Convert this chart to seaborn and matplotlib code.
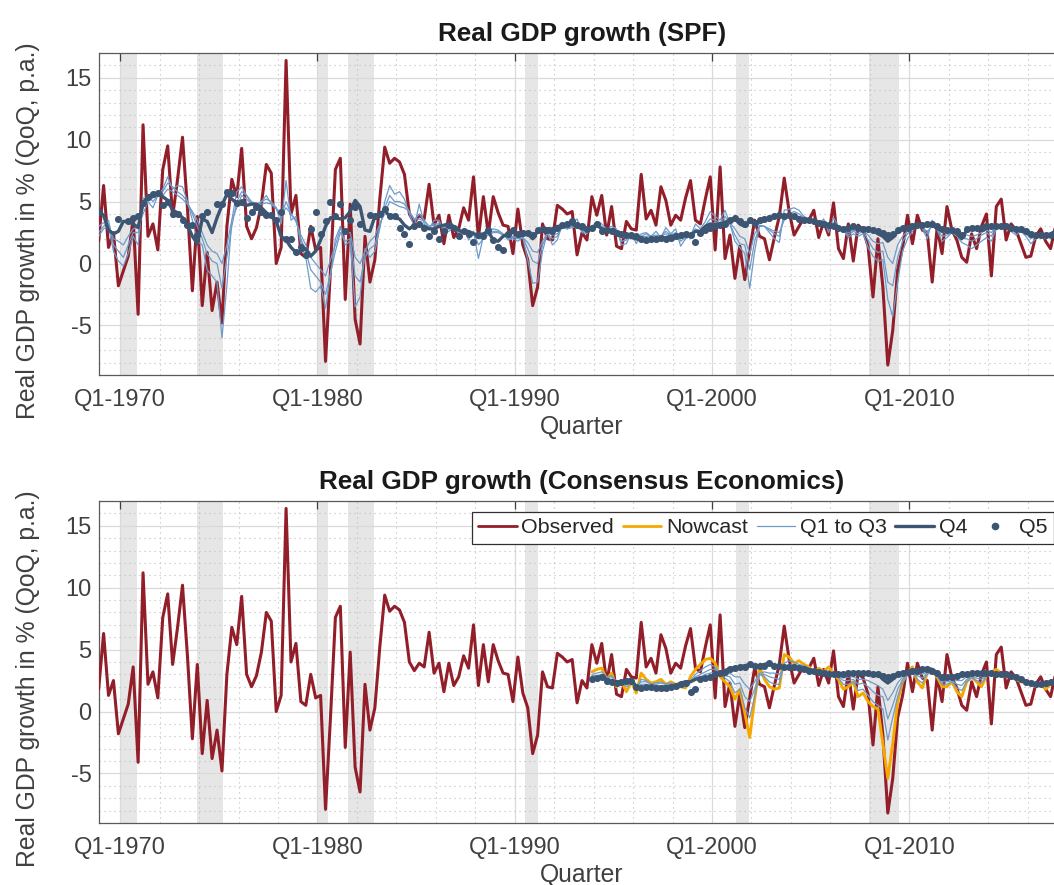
import numpy as np
import pandas as pd
import matplotlib
matplotlib.use("Agg")
import matplotlib.pyplot as plt
from matplotlib.lines import Line2D
from matplotlib.ticker import FixedLocator, MultipleLocator
import seaborn as sns

# ---------------- data ----------------
obs_start = "1968Q4"
observed = [
    1.8,
    6.3, 1.3, 2.5, -1.8,   -0.6, 0.6, 3.6, -4.1,   11.2, 2.2, 3.2, 1.1,   7.6, 9.5, 3.8, 6.8,
    10.2, 4.5, -2.2, 3.8,  -3.4, 0.9, -3.8, -1.5,  -4.8, 3.0, 6.8, 5.4,   9.3, 3.0, 2.0, 2.9,
    4.8, 8.0, 7.3, 0.0,    1.3, 16.4, 4.0, 5.5,    0.8, 0.5, 3.0, 1.1,    1.3, -7.9, -0.5, 7.6,
    8.5, -2.9, 4.8, -4.5,  -6.5, 2.2, -1.5, 0.3,   5.2, 9.4, 8.1, 8.5,    8.2, 7.2, 4.0, 3.3,
    3.9, 3.6, 6.4, 3.1,    3.9, 1.6, 3.9, 2.1,     2.8, 4.5, 3.5, 7.0,    2.1, 5.4, 2.4, 5.4,
    4.1, 3.1, 3.0, 0.8,    4.4, 1.5, 0.3, -3.4,    -1.9, 3.2, 2.0, 1.9,   4.7, 4.4, 4.0, 4.2,
    0.7, 2.5, 1.9, 5.4,    3.9, 5.5, 2.3, 4.6,     1.4, 1.2, 3.4, 2.8,    2.7, 7.2, 3.6, 4.3,
    3.1, 6.2, 5.1, 3.1,    3.9, 3.5, 5.3, 6.7,     3.5, 3.2, 5.2, 7.0,    1.1, 7.8, 0.4, 2.3,
    -1.2, 1.4, -1.3, 1.1,  3.5, 2.2, 2.0, 0.3,     2.1, 3.8, 6.9, 4.2,    2.3, 3.0, 3.7, 3.5,
    4.3, 2.1, 3.4, 2.3,    4.9, 1.2, 0.4, 3.2,     0.2, 3.1, 2.7, 1.4,    -2.7, 2.0, -1.9, -8.2,
    -5.4, -0.5, 1.3, 3.9,  1.6, 3.9, 2.7, 2.5,     -1.5, 2.9, 0.8, 4.6,   2.7, 1.9, 0.5, 0.1,
    2.4, 1.2, 3.0, 4.0,    -1.0, 4.6, 5.2, 1.9,    3.2, 2.7, 1.6, 0.5,    0.6, 2.2, 2.8, 1.8,
    1.2, 3.0,
]

spf_start = "1968Q4"
spf_q1 = [
    2.2,
    2.8, 3.0, 1.0, 0.2,    -0.2, 0.8, 2.2, 1.5,    5.3, 5.0, 4.5, 5.5,    6.0, 7.0, 6.0, 6.3,
    6.2, 5.0, 3.5, 1.8,    1.5, -0.5, -1.0, -1.5,  -6.0, -1.8, 3.5, 5.8,  6.2, 5.5, 4.8, 4.5,
    5.0, 5.5, 4.8, 4.5,    3.2, 6.7, 3.5, 3.8,     1.5, 0.5, -2.0, -2.3,  -1.8, -3.6, -1.0, 2.0,
    3.0, 1.5, 1.8, -3.5,   -2.7, 1.2, 0.5, 1.0,    2.8, 5.0, 6.3, 5.6,    5.8, 5.2, 4.0, 3.0,
    4.8, 3.2, 2.8, 3.5,    3.5, 2.5, 2.6, 3.0,     2.4, 2.8, 1.9, 2.6,    0.4, 2.2, 2.6, 2.8,
    2.7, 2.4, 1.9, 2.0,    1.8, 2.1, 0.3, -1.6,    -1.5, 1.0, 2.5, 1.5,   1.9, 3.2, 2.8, 3.2,
    3.6, 2.5, 2.4, 3.0,    3.4, 3.2, 2.8, 3.0,     2.8, 1.5, 1.6, 2.5,    1.6, 2.4, 2.5, 2.2,
    2.6, 2.1, 2.9, 2.4,    2.8, 1.4, 2.0, 2.2,     3.2, 2.8, 3.4, 4.2,    3.8, 3.5, 4.3, 3.2,
    1.8, 1.3, 0.8, -2.0,   1.0, 3.1, 3.0, 2.5,     2.0, 1.7, 4.3, 4.4,    4.5, 4.3, 3.8, 3.5,
    3.5, 3.2, 3.6, 2.5,    3.7, 3.0, 2.7, 2.1,     2.4, 2.2, 2.4, 1.3,    0.6, 0.2, 0.3, -2.9,
    -4.3, -1.5, 1.0, 2.0,  2.6, 3.2, 2.8, 2.0,     3.5, 2.7, 1.8, 2.1,    2.5, 2.2, 1.7, 1.5,
    1.2, 1.5, 1.8, 2.1,    1.8, 2.8, 3.0, 3.0,     2.6, 2.3, 2.6, 2.2,    1.6, 2.0, 2.2, 2.0,
    2.2, 2.4,
]
spf_q2 = [
    2.5,
    3.0, 3.5, 1.5, 1.0,    0.5, 1.5, 2.5, 2.5,     4.5, 5.5, 5.0, 5.5,    5.8, 6.5, 6.2, 5.8,
    5.5, 5.0, 4.0, 3.0,    2.0, 0.8, 0.2, 0.0,     -2.0, 0.5, 3.0, 5.0,   5.8, 5.5, 5.0, 4.8,
    5.0, 5.2, 5.0, 4.5,    3.8, 5.0, 4.0, 3.5,     2.0, 1.0, -0.5, -1.0,  -1.5, -2.5, -0.8, 1.0,
    2.5, 1.8, 2.0, -1.0,   -1.5, 0.5, 1.2, 1.5,    3.0, 4.5, 5.5, 5.0,    5.0, 4.8, 4.2, 3.5,
    4.0, 3.5, 3.0, 3.2,    3.2, 2.8, 2.8, 3.0,     2.6, 2.7, 2.3, 2.6,    1.5, 2.0, 2.4, 2.6,
    2.6, 2.3, 2.0, 2.1,    2.0, 2.1, 1.2, 0.2,     0.0, 1.5, 2.4, 2.0,    2.2, 3.0, 2.8, 3.0,
    3.2, 2.6, 2.5, 2.9,    3.2, 3.0, 2.8, 2.8,     2.6, 1.8, 1.9, 2.4,    1.9, 2.2, 2.4, 2.2,
    2.3, 2.2, 2.6, 2.3,    2.5, 1.8, 2.1, 2.3,     2.8, 2.6, 3.1, 3.6,    3.5, 3.3, 3.8, 3.2,
    2.3, 1.6, 1.5, -0.5,   1.8, 3.0, 3.0, 2.7,     2.4, 2.2, 3.8, 4.0,    4.2, 4.0, 3.7, 3.5,
    3.4, 3.3, 3.5, 2.8,    3.3, 3.0, 2.7, 2.3,     2.6, 2.4, 2.6, 1.9,    1.2, 0.9, 1.0, -1.5,
    -1.8, 0.5, 1.8, 2.4,   2.8, 3.1, 2.9, 2.4,     3.2, 2.8, 2.2, 2.3,    2.5, 2.4, 2.1, 2.0,
    1.8, 2.0, 2.3, 2.5,    2.2, 3.0, 3.0, 3.0,     2.8, 2.5, 2.6, 2.4,    2.0, 2.2, 2.3, 2.1,
    2.3, 2.5,
]
spf_q3 = [
    3.0,
    3.3, 3.2, 2.0, 1.8,    1.5, 2.2, 2.8, 3.0,     4.0, 5.0, 5.3, 5.5,    5.5, 6.0, 5.8, 5.5,
    5.2, 4.8, 4.2, 3.5,    2.5, 1.5, 1.0, 0.8,     0.0, 1.5, 3.5, 4.5,    5.5, 5.2, 4.8, 4.6,
    4.8, 4.9, 4.8, 4.4,    3.9, 4.5, 4.0, 3.4,     2.3, 1.5, 0.5, 0.0,    -0.5, -1.0, 0.3, 1.5,
    2.8, 2.5, 2.5, 0.5,    0.0, 1.0, 1.8, 2.2,     3.2, 4.0, 5.0, 4.8,    4.6, 4.5, 4.2, 3.6,
    3.6, 3.4, 3.0, 3.1,    3.1, 2.9, 2.8, 2.9,     2.7, 2.6, 2.4, 2.5,    2.0, 2.1, 2.3, 2.5,
    2.5, 2.3, 2.1, 2.2,    2.1, 2.1, 1.7, 1.0,     0.9, 1.8, 2.5, 2.3,    2.4, 2.9, 2.8, 2.9,
    3.0, 2.7, 2.6, 2.8,    3.0, 2.9, 2.7, 2.7,     2.5, 2.1, 2.1, 2.3,    2.0, 2.1, 2.2, 2.2,
    2.2, 2.2, 2.4, 2.3,    2.4, 2.0, 2.2, 2.3,     2.6, 2.6, 2.9, 3.2,    3.3, 3.2, 3.5, 3.3,
    2.8, 2.2, 2.0, 0.8,    2.4, 3.0, 3.0, 2.8,     2.6, 2.5, 3.5, 3.8,    3.9, 3.8, 3.6, 3.5,
    3.4, 3.3, 3.3, 3.0,    3.1, 3.0, 2.8, 2.5,     2.7, 2.6, 2.7, 2.3,    1.8, 1.6, 1.7, 0.5,
    0.0, 1.5, 2.2, 2.6,    2.9, 3.0, 2.9, 2.6,     3.0, 2.8, 2.5, 2.5,    2.6, 2.6, 2.4, 2.3,
    2.2, 2.3, 2.5, 2.7,    2.5, 3.0, 3.0, 3.0,     2.8, 2.6, 2.6, 2.5,    2.2, 2.3, 2.3, 2.2,
    2.3, 2.5,
]
spf_q4 = [
    4.2,
    3.9, 2.7, 2.4, 2.6,    3.4, 3.4, 3.2, 2.9,     4.9, 5.4, 5.6, 5.7,    5.4, 5.1, 4.3, 4.1,
    3.7, 3.1, 2.2, 1.6,    3.6, 3.4, 2.5, 3.7,     4.7, 5.6, 5.2, 4.9,    4.8, 4.7, 4.8, 4.8,
    4.5, 4.1, 3.8, 3.4,    2.2, 1.9, 1.3, 0.9,     1.0, 1.2, 0.6, 1.0,    1.9, 3.0, 3.7, 3.7,
    3.6, 3.7, 4.2, 5.1,    4.6, 2.7, 2.6, 3.8,     4.0, 4.3, 3.8, 3.7,    3.6, 3.1, 2.8, 3.1,
    3.1, 3.0, 2.8, 2.8,    3.0, 3.1, 3.2, 3.0,     2.7, 2.5, 2.6, 2.4,    2.3, 2.4, 2.6, 1.9,
    1.8, 2.2, 2.4, 2.5,    2.4, 2.5, 2.4, 2.0,     2.6, 2.8, 2.8, 2.8,    3.0, 3.0, 3.1, 3.2,
    3.0, 2.8, 2.8, 2.8,    3.1, 2.8, 2.7, 2.6,     2.4, 2.3, 2.3, 2.1,    2.0, 1.9, 1.8, 1.9,
    2.0, 1.9, 2.1, 2.2,    2.2, 2.3, 2.4, 2.3,     2.6, 2.6, 3.0, 3.2,    3.1, 3.2, 3.3, 3.5,
    3.6, 3.2, 3.0, 3.4,    3.3, 3.4, 3.6, 3.6,     3.8, 3.8, 3.8, 3.9,    3.7, 3.6, 3.5, 3.5,
    3.4, 3.3, 3.2, 3.0,    2.9, 2.8, 2.8, 2.8,     3.0, 2.8, 2.7, 2.8,    2.7, 2.4, 2.2, 1.8,
    2.1, 2.6, 2.8, 2.8,    3.0, 3.0, 3.1, 3.2,     3.2, 2.8, 2.7, 2.7,    2.7, 2.4, 2.0, 2.7,
    2.8, 2.8, 2.9, 3.0,    3.0, 3.0, 3.0, 3.0,     2.8, 2.8, 2.7, 2.5,    2.3, 2.2, 2.3, 2.2,
    2.4, 2.6,
]
nan = np.nan
spf_q5 = [
    4.2,
    nan, nan, nan, 3.6,    nan, 3.4, 3.7, 3.8,     4.9, 5.4, 5.6, 5.7,    4.7, 5.0, 4.0, 4.0,
    3.5, 3.1, 3.1, 2.3,    3.8, 4.2, nan, 4.8,     4.8, 5.8, 5.7, 4.9,    5.0, 3.7, 4.2, 4.6,
    4.2, 3.9, 3.9, 3.5,    4.2, 2.0, 2.0, 0.9,     1.3, 0.7, 2.8, 4.2,    2.4, 3.4, 5.0, 3.8,
    4.8, 2.6, 3.5, 4.6,    3.2, nan, 3.9, 3.8,     4.0, 4.4, 3.8, 3.8,    2.9, 2.4, 1.6, 3.0,
    3.2, 2.9, 2.2, 2.6,    2.0, 2.6, 3.1, 2.9,     2.2, 2.6, 2.4, 1.7,    2.3, 2.2, 2.7, 1.9,
    1.3, 1.1, 2.4, 2.7,    2.4, 2.5, 2.5, 2.3,     2.7, 2.8, 2.7, 2.6,    2.9, 3.1, 3.2, 3.4,
    3.1, 3.0, 2.8, 2.9,    3.2, 2.6, 2.7, 2.6,     2.5, 2.4, 2.3, 2.3,    2.2, 2.0, 1.9, 2.0,
    2.0, 2.1, 2.0, 2.1,    2.2, 2.3, 2.4, 2.3,     1.7, 2.5, 2.7, 2.9,    3.0, 3.1, 3.2, 3.5,
    3.7, 3.4, 3.2, 3.5,    3.3, 3.5, 3.6, 3.7,     3.8, 3.9, 3.8, 3.9,    3.8, 3.6, 3.5, 3.5,
    3.4, 3.3, 3.2, 3.1,    3.0, 2.9, 2.8, 2.9,     3.0, 2.9, 2.8, 2.8,    2.7, 2.6, 2.5, 2.3,
    2.4, 2.7, 2.9, 2.9,    3.0, 3.1, 3.1, 3.2,     3.2, 3.0, 2.8, 2.7,    2.7, 2.6, 2.3, 2.8,
    2.9, 2.9, 2.9, 3.0,    3.0, 3.0, 3.0, 3.0,     2.9, 2.8, 2.8, 2.6,    2.4, 2.3, 2.3, 2.3,
    2.3, 2.5,
]

ce_start = "1993Q4"
ce_nowcast = [
    3.2, 3.4, 3.5, 2.6,  3.1, 2.0, 2.4, 1.6,  2.4, 1.5, 3.1, 2.6,  2.3, 2.4, 2.6, 2.2,
    2.4, 2.2, 2.0, 1.9,  2.8, 3.4, 3.8, 4.2,  4.3, 3.9, 2.8, 2.4,  2.0, 1.0, 1.8, -0.1,
    -2.1, 1.0, 3.6, 2.6, 2.0, 1.8, 1.9, 4.6,  4.4, 3.9, 4.1, 3.8,  3.6, 3.1, 3.5, 3.2,
    3.6, 3.1, 2.6, 1.8,  2.0, 2.4, 1.2, 1.5,  0.8, 0.4, 0.2, -2.6, -5.4, -2.6, 0.8, 2.4,
    3.1, 3.6, 2.4, 1.9,  3.1, 3.4, 2.8, 2.0,  2.0, 2.4, 1.6, 1.2,  2.4, 2.8, 2.4, 2.0,
    2.9, 3.2, 3.4, 3.1,  2.8, 2.9, 2.6, 2.4,  2.3, 2.2, 2.0, 2.2,  1.8, 2.2, 2.4,
]
ce_q1 = [
    3.0, 3.1, 3.2, 2.8,  2.9, 2.3, 2.4, 2.0,  2.3, 1.8, 2.6, 2.5,  2.2, 2.3, 2.4, 2.2,
    2.3, 2.2, 2.0, 2.0,  2.5, 3.0, 3.3, 3.6,  3.8, 3.6, 3.0, 2.7,  2.4, 1.5, 1.8, 0.3,
    -0.5, 1.2, 3.0, 2.8, 2.4, 2.2, 2.2, 3.9,  4.1, 4.0, 3.8, 3.7,  3.5, 3.3, 3.4, 3.2,
    3.3, 3.0, 2.7, 2.2,  2.2, 2.4, 1.7, 1.8,  1.3, 0.8, 0.5, 0.2,  -2.3, -0.5, 1.2, 2.3,
    2.9, 3.2, 2.6, 2.3,  3.0, 3.2, 2.8, 2.2,  2.2, 2.4, 1.9, 1.7,  2.4, 2.7, 2.5, 2.3,
    2.8, 3.0, 3.1, 3.0,  2.8, 2.8, 2.6, 2.4,  2.3, 2.2, 2.1, 2.2,  2.0, 2.2, 2.4,
]
ce_q2 = [
    2.9, 2.9, 3.0, 2.8,  2.8, 2.4, 2.4, 2.2,  2.4, 2.0, 2.4, 2.4,  2.2, 2.2, 2.3, 2.2,
    2.2, 2.2, 2.1, 2.1,  2.4, 2.8, 3.0, 3.2,  3.4, 3.4, 3.1, 2.9,  2.8, 2.2, 2.3, 1.2,
    0.8, 1.8, 3.0, 3.0,  2.8, 2.7, 2.6, 3.6,  3.8, 3.8, 3.7, 3.6,  3.5, 3.3, 3.3, 3.2,
    3.2, 3.0, 2.8, 2.5,  2.5, 2.6, 2.2, 2.3,  2.0, 1.6, 1.3, 1.2,  -0.6, 0.5, 1.8, 2.6,
    3.0, 3.2, 2.9, 2.7,  3.1, 3.2, 2.9, 2.4,  2.4, 2.5, 2.2, 2.1,  2.6, 2.8, 2.7, 2.6,
    2.9, 3.0, 3.0, 3.0,  2.9, 2.8, 2.7, 2.5,  2.4, 2.2, 2.2, 2.2,  2.1, 2.3, 2.4,
]
ce_q3 = [
    2.8, 2.8, 2.9, 2.7,  2.6, 2.4, 2.4, 2.3,  2.5, 2.0, 2.2, 2.2,  2.1, 2.1, 2.1, 2.1,
    2.1, 2.2, 2.2, 2.2,  2.4, 2.7, 2.8, 3.0,  3.1, 3.2, 3.1, 3.0,  3.1, 2.8, 2.8, 2.2,
    1.8, 2.4, 3.1, 3.2,  3.1, 3.1, 3.0, 3.5,  3.7, 3.7, 3.6, 3.5,  3.4, 3.3, 3.2, 3.1,
    3.1, 3.0, 2.9, 2.7,  2.8, 2.8, 2.6, 2.6,  2.5, 2.3, 2.1, 1.8,  0.9, 1.5, 2.3, 2.8,
    3.1, 3.2, 3.1, 3.0,  3.2, 3.2, 2.9, 2.5,  2.6, 2.6, 2.5, 2.5,  2.8, 2.9, 2.9, 2.8,
    3.0, 3.0, 3.0, 3.0,  2.9, 2.8, 2.7, 2.5,  2.4, 2.3, 2.2, 2.2,  2.2, 2.3, 2.4,
]
ce_q4 = [
    2.6, 2.7, 2.8, 2.6,  2.4, 2.4, 2.4, 2.5,  2.6, 2.0, 1.9, 2.0,  2.0, 1.9, 1.9, 2.0,
    2.0, 2.1, 2.3, 2.4,  2.4, 2.6, 2.7, 2.7,  2.8, 3.0, 3.1, 3.3,  3.5, 3.5, 3.6, 3.7,
    3.8, 3.7, 3.7, 3.8,  3.9, 3.7, 3.6, 3.6,  3.6, 3.6, 3.5, 3.5,  3.4, 3.3, 3.2, 3.1,
    3.0, 3.0, 3.0, 3.0,  3.1, 3.1, 3.1, 3.1,  3.1, 3.0, 3.0, 2.6,  2.3, 2.6, 3.1, 3.1,
    3.2, 3.3, 3.4, 3.4,  3.5, 3.4, 3.1, 2.6,  2.7, 2.8, 2.9, 3.0,  3.0, 3.1, 3.1, 3.1,
    3.1, 3.1, 3.0, 3.0,  3.0, 2.9, 2.8, 2.6,  2.4, 2.3, 2.2, 2.2,  2.3, 2.4, 2.4,
]
ce_q5 = [
    2.6, 2.7, 2.8, 2.5,  2.4, 2.3, 2.4, 2.5,  2.5, 2.0, 1.9, 2.0,  2.0, 1.9, 1.9, 1.9,
    2.0, 2.1, 2.2, 2.3,  1.6, 1.8, 2.6, 2.7,  2.8, 3.0, 3.1, 3.2,  3.4, 3.5, 3.6, 3.6,
    3.8, 3.7, 3.7, 3.7,  3.9, 3.7, 3.7, 3.6,  3.6, 3.6, 3.5, 3.4,  3.3, 3.3, 3.2, 3.1,
    3.0, 3.0, 3.0, 3.0,  3.1, 3.1, 3.1, 3.1,  3.1, 3.0, 3.0, 2.9,  2.8, 2.9, 3.0, 3.1,
    3.2, 3.3, 3.3, 3.4,  3.4, 3.3, 3.1, 2.8,  2.8, 2.8, 2.9, 3.0,  3.0, 3.1, 3.1, 3.1,
    3.1, 3.1, 3.0, 3.0,  3.0, 2.9, 2.8, 2.6,  2.4, 2.3, 2.2, 2.2,  2.3, 2.4, 2.4,
]

recession_start = [1970.00, 1973.90, 1980.00, 1981.57, 1990.52, 2001.22, 2007.97]
recession_end = [1970.86, 1975.20, 1980.53, 1982.87, 1991.16, 2001.88, 2009.48]

tick_years = [1970, 1980, 1990, 2000, 2010]
tick_labels = ["Q1-1970", "Q1-1980", "Q1-1990", "Q1-2000", "Q1-2010"]

titles = ["Real GDP growth (SPF)", "Real GDP growth (Consensus Economics)"]
y_label = "Real GDP growth in % (QoQ, p.a.)"
x_label = "Quarter"
legend_names = ["Observed", "Nowcast", "Q1 to Q3", "Q4", "Q5"]

# ---------------- style ----------------
sns.set_style("white")
plt.rcParams["font.family"] = ["Liberation Sans", "DejaVu Sans"]
plt.rcParams["axes.unicode_minus"] = False

C_OBS = "#921E29"
C_NOW = "#F5A800"
C_THIN = "#6E9BC9"
C_DARK = "#3B5573"
C_REC = "#E6E6E6"
C_TXT = "#404040"


def xpos(start, n):
    q = pd.period_range(start, periods=n, freq="Q")
    return np.asarray(q.year + (q.quarter - 1) / 4.0 + 0.16, dtype=float)


fig = plt.figure(figsize=(10.54, 8.85), dpi=100)
ax_top = fig.add_axes([0.0936, 0.5763, 0.9168, 0.3638])
ax_bot = fig.add_axes([0.0936, 0.0701, 0.9168, 0.3638])


def draw_series(ax, start, nowcast, q1, q2, q3, q4, q5, obs):
    xo = xpos(obs_start, len(obs))
    sns.lineplot(x=xo, y=obs, ax=ax, color=C_OBS, linewidth=2.2, zorder=3,
                 legend=False, errorbar=None)
    if nowcast is not None:
        sns.lineplot(x=xpos(start, len(nowcast)), y=nowcast, ax=ax, color=C_NOW,
                     linewidth=2.1, zorder=3.5, legend=False, errorbar=None)
    for s in (q1, q2, q3):
        sns.lineplot(x=xpos(start, len(s)), y=s, ax=ax, color=C_THIN,
                     linewidth=0.9, zorder=3.7, legend=False, errorbar=None)
    sns.lineplot(x=xpos(start, len(q4)), y=q4, ax=ax, color=C_DARK,
                 linewidth=2.4, zorder=4, legend=False, errorbar=None)
    sns.scatterplot(x=xpos(start, len(q5)), y=q5, ax=ax, color=C_DARK, s=26,
                    linewidth=0, zorder=5, legend=False)


def style_axes(ax, title):
    for a, b in zip(recession_start, recession_end):
        ax.axvspan(a, b, color=C_REC, lw=0, zorder=0)
    ax.set_xlim(1968.91, 2017.89)
    ax.set_ylim(-9, 17)
    ax.xaxis.set_major_locator(FixedLocator(tick_years))
    ax.set_xticklabels(tick_labels)
    ax.xaxis.set_minor_locator(MultipleLocator(2))
    ax.yaxis.set_major_locator(MultipleLocator(5))
    ax.yaxis.set_minor_locator(MultipleLocator(1))
    ax.set_axisbelow(True)
    ax.grid(which="major", color="#DADADA", lw=0.9, ls="-")
    ax.grid(which="minor", color="#BDBDBD", lw=0.8, ls=(0, (1, 3.5)))
    ax.tick_params(which="major", direction="in", length=6, width=0.9,
                   color="#404040", top=True, right=False,
                   labelsize=17, labelcolor=C_TXT)
    ax.tick_params(axis="x", which="major", pad=10)
    ax.tick_params(axis="y", which="major", pad=5)
    ax.tick_params(which="minor", length=0)
    for side in ("left", "bottom", "top"):
        ax.spines[side].set_color("#5A5A5A")
        ax.spines[side].set_linewidth(0.9)
    ax.spines["right"].set_visible(False)
    ax.set_title(title, fontsize=18.8, fontweight="bold", color="#1A1A1A", pad=8.5)
    ax.set_ylabel(y_label, fontsize=17.8, color=C_TXT)
    ax.set_xlabel(x_label, fontsize=17.8, color=C_TXT, labelpad=3)
    ax.yaxis.set_label_coords(-0.061, 0.447)


draw_series(ax_top, spf_start, None, spf_q1, spf_q2, spf_q3, spf_q4, spf_q5, observed)
style_axes(ax_top, titles[0])

draw_series(ax_bot, ce_start, ce_nowcast, ce_q1, ce_q2, ce_q3, ce_q4, ce_q5, observed)
style_axes(ax_bot, titles[1])

handles = [
    Line2D([], [], color=C_OBS, lw=2.0),
    Line2D([], [], color=C_NOW, lw=2.0),
    Line2D([], [], color=C_THIN, lw=0.9),
    Line2D([], [], color=C_DARK, lw=2.4),
    Line2D([], [], color=C_DARK, lw=0, marker="o", markersize=4.5),
]
leg = ax_bot.legend(handles, legend_names, loc="upper left",
                    bbox_to_anchor=(0.386, 0.966), ncol=5, fontsize=15.4,
                    frameon=True, fancybox=False, framealpha=1,
                    edgecolor="#303030", handlelength=1.8, handletextpad=0.23,
                    columnspacing=0.4, borderpad=0.3, borderaxespad=0)
leg.get_frame().set_linewidth(0.9)
for t in leg.get_texts():
    t.set_color("#262626")

fig.savefig("out.png", dpi=100)
